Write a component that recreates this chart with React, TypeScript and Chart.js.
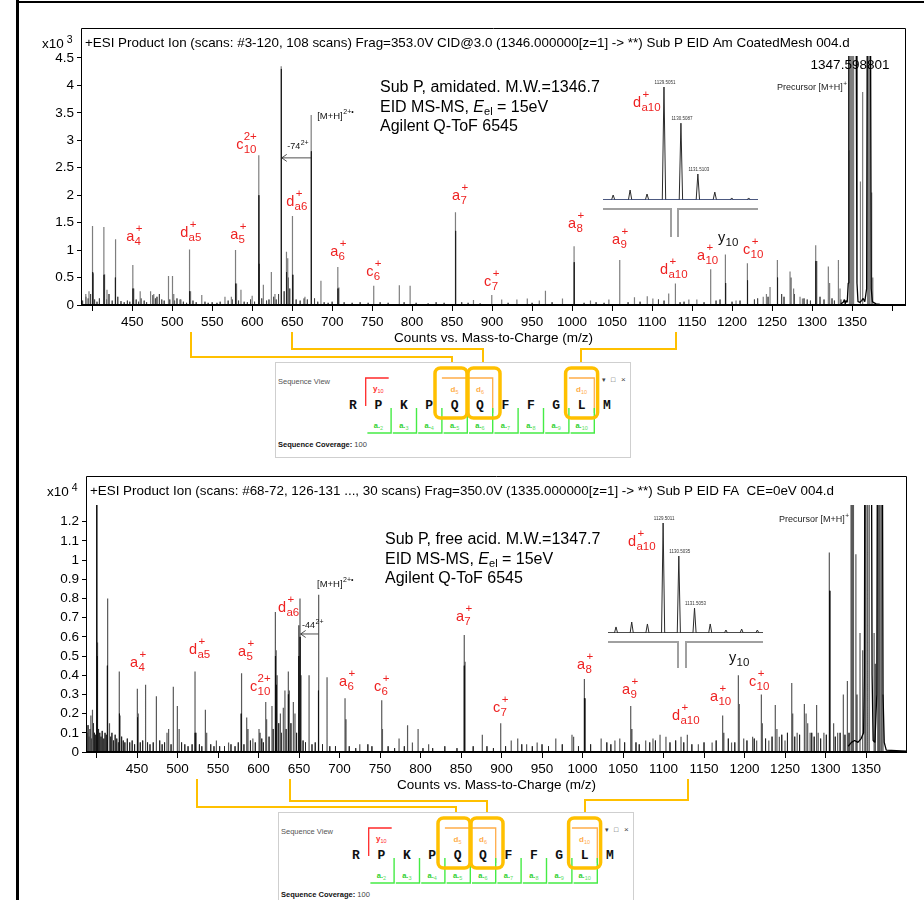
import React, { useEffect, useRef } from 'react';
import { Chart, registerables } from 'chart.js';

Chart.register(...registerables);

if (typeof document !== 'undefined') {
  document.body.style.margin = '0';
  document.documentElement.style.overflow = 'hidden';
  document.body.style.overflow = 'hidden';
}

const SANS = '"Liberation Sans", Arial, Helvetica, sans-serif';
const MONO = '"Liberation Mono", "Courier New", monospace';

type Pk = [number, number];
type Ion = [string, string, string, number, number];

// ---------------- DATA : top spectrum (amidated, x10^3 counts) ----------------
const topTitle = '+ESI Product Ion (scans: #3-120, 108 scans) Frag=353.0V CID@3.0 (1346.000000[z=1] -> **) Sub P EID Am CoatedMesh 004.d';
const topInfo = ['Sub P, amidated. M.W.=1346.7', 'Agilent Q-ToF 6545'];
const topXTicks = [400, 450, 500, 550, 600, 650, 700, 750, 800, 850, 900, 950, 1000, 1050, 1100, 1150, 1200, 1250, 1300, 1350, 1400];
const topYTicks = [0, 0.5, 1, 1.5, 2, 2.5, 3, 3.5, 4, 4.5];
const topPeaksGray: Pk[] = [
  [392, 0.2], [396, 0.25], [400.4, 1.44], [401.5, 0.58], [414.6, 1.42], [415.5, 0.56], [418.5, 0.28],
  [428.8, 1.2], [429.5, 0.5], [450.8, 0.73], [452, 0.3], [460, 0.25], [473, 0.25], [477, 0.2],
  [495.4, 0.53], [500.4, 0.53], [502, 0.2], [511, 0.1], [521.7, 1.01], [523, 0.25], [537, 0.18],
  [566, 0.15], [574, 0.15], [579.2, 1.0], [580.5, 0.39], [586, 0.28], [600, 0.17], [608.3, 2.73],
  [614, 0.37], [624, 0.6], [628.5, 0.2], [636.3, 4.35], [642.9, 0.97], [644.5, 0.85], [650.4, 1.62],
  [651.5, 0.55], [666, 0.15], [673.8, 3.46], [686, 0.44], [707.1, 0.69], [708.5, 0.32], [752, 0.35],
  [784, 0.36], [797.5, 0.35], [854.2, 1.69], [876.7, 0.09], [899.6, 0.18], [912, 0.1], [931, 0.1],
  [944, 0.12], [959, 0.08], [966.7, 0.26], [988, 0.12], [1002.5, 1.07], [1023, 0.08], [1046, 0.1],
  [1059.6, 0.82], [1078, 0.14], [1094, 0.16], [1101, 0.12], [1120.8, 0.21], [1129.2, 0.39], [1146, 0.1],
  [1156, 0.1], [1173.3, 0.65], [1191.7, 0.92], [1205, 0.08], [1219.2, 0.76], [1239, 0.15], [1243, 0.2],
  [1247.5, 0.33], [1256.7, 0.82], [1272.5, 0.61], [1274, 0.5], [1277, 0.3], [1285, 0.15], [1288, 0.12],
  [1304.6, 1.09], [1306, 0.8], [1320.4, 0.7], [1322, 0.4], [1333, 0.82], [1335, 0.3], [1346.7, 2.82],
  [1347.5, 6], [1349, 6], [1350.5, 6], [1352, 6], [1360.5, 2.25], [1363.3, 3.88], [1369.5, 6],
  [1371, 6], [1372.5, 6], [1374.6, 2.05], [1376, 0.5],
];
const topPeaksDark: Pk[] = [
  [400.6, 0.6], [414.8, 0.55], [429, 0.5], [451, 0.3], [521.8, 0.25], [579.4, 0.39], [608.4, 2.0],
  [608.6, 0.75], [636.4, 4.3], [636.6, 1.4], [643, 0.6], [650.5, 0.55], [673.9, 2.8], [674.1, 1.4],
  [707.3, 0.3], [854.4, 1.35], [1002.7, 0.78], [1192, 0.4], [1219.4, 0.45], [1256.9, 0.5], [1304.8, 0.8],
];
const topNoise: Pk[] = [
  [388, 0.08], [392, 0.15], [395, 0.12], [398, 0.2], [403, 0.1], [406, 0.06], [409, 0.12], [418, 0.1],
  [421, 0.2], [425, 0.08], [432, 0.15], [436, 0.07], [440, 0.05], [444, 0.08], [447, 0.06], [455, 0.1],
  [458, 0.06], [461, 0.12], [465, 0.08], [468, 0.05], [476, 0.18], [479, 0.12], [481, 0.15], [484, 0.2],
  [487, 0.1], [490, 0.08], [497, 0.1], [503, 0.08], [506, 0.12], [510, 0.1], [514, 0.06], [518, 0.04],
  [526, 0.08], [530, 0.05], [541, 0.06], [545, 0.04], [550, 0.05], [556, 0.04], [560, 0.06], [570, 0.08],
  [575, 0.1], [583, 0.08], [590, 0.06], [594, 0.05], [598, 0.1], [603, 0.06], [612, 0.12], [618, 0.08],
  [621, 0.1], [627, 0.15], [630, 0.1], [633, 0.2], [640, 0.25], [645, 0.5], [647, 0.3], [655, 0.1],
  [660, 0.08], [665, 0.12], [669, 0.1], [678, 0.12], [682, 0.06], [690, 0.05], [695, 0.04], [700, 0.06],
  [715, 0.05], [725, 0.04], [735, 0.05], [745, 0.04], [760, 0.05], [770, 0.04], [790, 0.05], [805, 0.04],
  [820, 0.03], [830, 0.05], [840, 0.04], [862, 0.05], [870, 0.04], [885, 0.03], [920, 0.04], [950, 0.04],
  [975, 0.05], [1015, 0.04], [1030, 0.05], [1040, 0.04], [1070, 0.05], [1085, 0.06], [1108, 0.1],
  [1115, 0.08], [1135, 0.05], [1140, 0.06], [1165, 0.05], [1180, 0.08], [1185, 0.1], [1200, 0.06],
  [1210, 0.08], [1228, 0.1], [1232, 0.12], [1245, 0.15], [1262, 0.2], [1265, 0.15], [1278, 0.2],
  [1290, 0.12], [1294, 0.1], [1298, 0.08], [1310, 0.15], [1315, 0.1], [1325, 0.12], [1328, 0.08], [1336, 0.1],
];
const topProfile: Pk[] = [
  [1336, 0.02], [1339, 0.05], [1340.5, 0.1], [1341.5, 0.02], [1342.5, 0.08], [1344, 0.05], [1345.3, 0.4],
  [1346, 6], [1355, 6], [1356.2, 0.4], [1357.5, 0.06], [1360, 0.05], [1362, 0.08], [1364, 0.12], [1366, 0.06],
  [1368.3, 0.3], [1369.2, 6], [1373, 6], [1374, 0.3], [1375.5, 0.06], [1380, 0.02], [1385, 0.01],
];
const topIons: Ion[] = [
  ['a', '4', '+', 442.5, 1.24], ['d', 'a5', '+', 510, 1.31], ['a', '5', '+', 572.5, 1.275],
  ['c', '10', '2+', 580, 2.915], ['d', 'a6', '+', 642.5, 1.876], ['a', '6', '+', 697.5, 0.966],
  ['c', '6', '+', 742.5, 0.601], ['a', '7', '+', 850, 1.986], ['c', '7', '+', 890, 0.419],
  ['a', '8', '+', 995, 1.476], ['a', '9', '+', 1050, 1.184], ['d', 'a10', '+', 1110, 0.638],
  ['a', '10', '+', 1156.25, 0.893], ['y', '10', '', 1182.5, 1.22], ['c', '10', '+', 1213.75, 1.002],
  ['d', 'a10', '+', 1076.25, 3.68],
];
const topLoss = { fromMz: 673.5, toMz: 637, level: 2.68, text: '-74', charge: '2+', labelMz: 643.75, labelLevel: 2.878 };
const topMH2 = { mz: 681.25, level: 3.443 };
const topPrecursor = { mz: 1256.25, level: 3.953, valueText: '1347.598801', valueMz: 1347.5, valueLevel: 4.37 };

// ---------------- DATA : bottom spectrum (free acid, x10^4 counts) ----------------
const botTitle = '+ESI Product Ion (scans: #68-72, 126-131 ..., 30 scans) Frag=350.0V (1335.000000[z=1] -> **) Sub P EID FA  CE=0eV 004.d';
const botInfo = ['Sub P, free acid. M.W.=1347.7', 'Agilent Q-ToF 6545'];
const botXTicks = [400, 450, 500, 550, 600, 650, 700, 750, 800, 850, 900, 950, 1000, 1050, 1100, 1150, 1200, 1250, 1300, 1350];
const botYTicks = [0, 0.1, 0.2, 0.3, 0.4, 0.5, 0.6, 0.7, 0.8, 0.9, 1, 1.1, 1.2];
const botPeaksGray: Pk[] = [
  [391, 0.12], [393, 0.19], [395, 0.22], [400.2, 1.29], [400.8, 0.57], [401.5, 0.41], [413.3, 0.8], [414, 0.44],
  [416, 0.15], [428.1, 0.42], [429, 0.19], [450.4, 0.33], [451.5, 0.2], [459.9, 0.35], [461, 0.2], [473.9, 0.29],
  [487, 0.1], [489, 0.12], [494.8, 0.34], [499.8, 0.24], [502, 0.12], [521.6, 0.42], [523, 0.1], [534.4, 0.22],
  [536, 0.1], [548, 0.06], [563, 0.05], [578.4, 0.41], [579.5, 0.19], [585.4, 0.18], [587, 0.12], [593, 0.07],
  [600.6, 0.12], [602, 0.1], [608.9, 0.26], [610, 0.17], [616.6, 0.24], [620.8, 0.73], [621.8, 0.53], [623, 0.4],
  [627, 0.2], [630.6, 0.23], [632.6, 0.32], [636.8, 0.42], [638, 0.32], [643, 0.26], [645, 0.2], [649.6, 0.66],
  [651.2, 0.8], [652.5, 0.4], [662.4, 0.4], [673.9, 0.82], [674.5, 0.32], [684.6, 0.39], [706.8, 0.28], [708, 0.17],
  [725, 0.04], [752.1, 0.27], [753, 0.12], [773.5, 0.07], [784, 0.14], [790, 0.05], [797, 0.12], [810, 0.04],
  [854, 0.61], [855, 0.47], [876.3, 0.09], [899, 0.15], [912, 0.06], [920, 0.07], [931, 0.04], [944, 0.05],
  [967, 0.07], [987, 0.09], [989, 0.08], [1002.3, 0.38], [1003.5, 0.28], [1023, 0.07], [1040, 0.06], [1046, 0.07],
  [1059.5, 0.24], [1061, 0.12], [1078, 0.06], [1087, 0.07], [1095.7, 0.09], [1103, 0.08], [1121.6, 0.08],
  [1129.4, 0.09], [1143, 0.04], [1160, 0.05], [1173, 0.19], [1174.5, 0.1], [1184, 0.05], [1192.4, 0.4],
  [1193.5, 0.25], [1199, 0.07], [1210, 0.08], [1215, 0.06], [1220.8, 0.3], [1222, 0.15], [1230, 0.06],
  [1238, 0.245], [1240, 0.12], [1243, 0.08], [1250, 0.06], [1258.3, 0.36], [1259.5, 0.2], [1265, 0.1],
  [1273.9, 0.25], [1276, 0.2], [1278, 0.15], [1281, 0.1], [1289, 0.245], [1291, 0.1], [1298, 0.1],
  [1304.7, 1.04], [1305.8, 0.84], [1310, 0.15], [1315, 0.1], [1322, 0.3], [1327, 0.37], [1331.5, 1.5],
  [1333, 1.5], [1334.5, 1.5], [1337.5, 1.03], [1339, 0.3], [1342.6, 0.62], [1345.9, 0.53], [1348.5, 1.5],
  [1350, 1.5], [1352, 1.5], [1354, 1.5], [1360, 0.62], [1361.6, 0.46], [1364.5, 1.5], [1366, 1.5],
  [1367.5, 1.5], [1369.3, 1.5], [1371, 0.3],
];
const botPeaksDark: Pk[] = [
  [400.3, 1.29], [400.9, 0.5], [413.4, 0.45], [428.3, 0.2], [450.6, 0.18], [521.8, 0.1], [578.6, 0.2],
  [620.9, 0.5], [622, 0.35], [636.9, 0.3], [649.8, 0.5], [651.3, 0.6], [674, 0.32], [854.1, 0.45],
  [1002.4, 0.28], [1305, 0.84],
];
const botNoise: Pk[] = [
  [388, 0.1], [389.5, 0.14], [391, 0.08], [392.5, 0.12], [394, 0.07], [396, 0.15], [397.5, 0.1], [399, 0.09],
  [402.5, 0.12], [404, 0.1], [405.5, 0.08], [407, 0.11], [409, 0.07], [410.5, 0.1], [412, 0.09], [416, 0.12],
  [417.5, 0.08], [419, 0.1], [421, 0.06], [423, 0.09], [425, 0.07], [427, 0.05], [431, 0.08], [433, 0.06],
  [435, 0.05], [438, 0.07], [441, 0.05], [444, 0.06], [447, 0.04], [454, 0.05], [457, 0.06], [463, 0.05],
  [466, 0.04], [470, 0.05], [478, 0.06], [481, 0.04], [484, 0.05], [492, 0.04], [505, 0.05], [509, 0.04],
  [513, 0.03], [518, 0.04], [527, 0.04], [530, 0.03], [541, 0.04], [545, 0.03], [552, 0.03], [558, 0.03],
  [566, 0.04], [571, 0.03], [575, 0.05], [582, 0.04], [590, 0.06], [596, 0.05], [604, 0.07], [606, 0.05],
  [613, 0.08], [618, 0.12], [625, 0.15], [628, 0.1], [634, 0.12], [640, 0.15], [647, 0.1], [655, 0.06],
  [658, 0.05], [666, 0.04], [670, 0.05], [679, 0.04], [688, 0.03], [695, 0.03], [712, 0.03], [720, 0.02],
  [735, 0.04], [740, 0.03], [760, 0.03], [768, 0.02], [780, 0.03], [803, 0.02], [815, 0.02], [830, 0.03],
  [845, 0.02], [865, 0.03], [882, 0.03], [890, 0.02], [905, 0.03], [925, 0.04], [938, 0.03], [950, 0.04],
  [958, 0.03], [975, 0.04], [995, 0.03], [1010, 0.04], [1030, 0.05], [1035, 0.04], [1052, 0.05], [1066, 0.05],
  [1070, 0.04], [1083, 0.05], [1090, 0.06], [1108, 0.05], [1115, 0.06], [1125, 0.05], [1135, 0.04],
  [1150, 0.05], [1165, 0.06], [1180, 0.07], [1188, 0.05], [1203, 0.06], [1212, 0.07], [1226, 0.07],
  [1234, 0.08], [1246, 0.09], [1253, 0.1], [1262, 0.08], [1268, 0.09], [1283, 0.1], [1286, 0.08],
  [1294, 0.07], [1301, 0.09], [1312, 0.08], [1318, 0.1], [1324, 0.09], [1329, 0.1],
];
const botProfile: Pk[] = [
  [1328, 0.03], [1332, 0.05], [1336, 0.06], [1340, 0.05], [1344, 0.07], [1347, 0.1], [1348, 0.4], [1348.8, 2],
  [1356.5, 2], [1357.5, 0.4], [1358.8, 0.06], [1361, 0.05], [1363.3, 0.3], [1364.3, 2], [1370, 2], [1371, 0.3],
  [1372.5, 0.05], [1375, 0.01], [1400, 0.004],
];
const botIons: Ion[] = [
  ['a', '4', '+', 441.4, 0.464], ['d', 'a5', '+', 514.2, 0.532], ['a', '5', '+', 574.7, 0.521],
  ['c', '10', '2+', 589.5, 0.339], ['d', 'a6', '+', 624.1, 0.75], ['a', '6', '+', 699.4, 0.365],
  ['c', '6', '+', 742.6, 0.339], ['a', '7', '+', 843.8, 0.703], ['c', '7', '+', 889.5, 0.229],
  ['a', '8', '+', 993.2, 0.453], ['a', '9', '+', 1048.8, 0.323], ['d', 'a10', '+', 1110.5, 0.188],
  ['a', '10', '+', 1157.4, 0.287], ['y', '10', '', 1180.9, 0.49], ['c', '10', '+', 1205.6, 0.365],
  ['d', 'a10', '+', 1056.2, 1.094],
];
const botLoss = { fromMz: 673.9, toMz: 652, level: 0.615, text: '-44', charge: '2+', labelMz: 653.7, labelLevel: 0.657 };
const botMH2 = { mz: 672.2, level: 0.875 };
const botPrecursor = { mz: 1242.6, level: 1.209, valueText: '', valueMz: 0, valueLevel: 0 };

// ---------------- DATA : isotope insets (d_a10+) ----------------
const topIsoMz = [1126.5, 1127.5, 1128.5, 1129.5, 1130.5, 1131.5, 1132.5, 1133.5, 1134.5];
const topIsoRel = [0.044, 0.088, 0.053, 1.0, 0.68, 0.23, 0.07, 0.018, 0.018];
const topIsoLabels = ['1129.5051', '1130.5087', '1131.5103'];
const botIsoMz = [1126.5, 1127.5, 1128.5, 1129.5, 1130.5, 1131.5, 1132.5, 1133.5, 1134.5, 1135.5];
const botIsoRel = [0.055, 0.1, 0.082, 1.0, 0.7, 0.227, 0.082, 0.027, 0.036, 0.027];
const botIsoLabels = ['1129.5011', '1130.5035', '1131.5053'];

// ---------------- DATA : sequence view ----------------
const seqResidues = ['R', 'P', 'K', 'P', 'Q', 'Q', 'F', 'F', 'G', 'L', 'M'];
const seqAIons = [2, 3, 4, 5, 6, 7, 8, 9, 10];
const seqDIons = [5, 6, 10];
const seqYIons = [10];
const seqBoxed = [5, 6, 10];
const seqCoverage = '100';

// ---------------- helpers ----------------
function sticks(peaks: Pk[]) {
  const out: { x: number; y: number }[] = [];
  for (const [m, v] of peaks) {
    out.push({ x: m, y: 0 }, { x: m, y: v }, { x: m, y: 0 });
  }
  return out;
}

function ionText(ctx: CanvasRenderingContext2D, x: number, y: number, main: string, sub: string, sup: string, color: string) {
  ctx.fillStyle = color;
  ctx.textBaseline = 'middle';
  ctx.textAlign = 'left';
  ctx.font = `14.5px ${SANS}`;
  ctx.fillText(main, x, y);
  const w = ctx.measureText(main).width;
  const sx = x + w + 0.3;
  ctx.font = `11.5px ${SANS}`;
  if (sub) ctx.fillText(sub, sx, y + 5);
  if (sup) {
    if (sup === '+') {
      ctx.textAlign = 'center';
      ctx.fillText('+', sx + 4.5, y - 8.5);
      ctx.textAlign = 'left';
    } else {
      ctx.fillText(sup, sx, y - 8.5);
    }
  }
}

interface SpecCfg {
  top: number;
  height: number;
  padding: { left: number; right: number; top: number; bottom: number };
  xMin: number;
  xMax: number;
  yMax: number;
  xTicks: number[];
  yTicks: number[];
  gray: Pk[];
  dark: Pk[];
  noise: Pk[];
  profile: Pk[];
  grayColor: string;
  darkColor: string;
  noiseColor: string;
  frameAbove: number;
  title: string;
  exponent: string;
  info: string[];
  infoX: number;
  infoY: number;
  ions: Ion[];
  loss: typeof topLoss;
  mh2: { mz: number; level: number };
  precursor: typeof topPrecursor;
}

function decorPlugin(cfg: SpecCfg) {
  return {
    id: 'decor',
    afterDraw(chart: any) {
      const { ctx, chartArea } = chart;
      const { left, right, top, bottom } = chartArea;
      const xs = chart.scales.x;
      const ys = chart.scales.y;
      const X = (m: number) => xs.getPixelForValue(m);
      const Y = (v: number) => ys.getPixelForValue(v);
      const ft = top - cfg.frameAbove;
      ctx.save();
      // frame
      ctx.strokeStyle = '#000';
      ctx.lineWidth = 1;
      ctx.beginPath();
      ctx.moveTo(left + 0.5, bottom);
      ctx.lineTo(left + 0.5, ft + 0.5);
      ctx.lineTo(right - 0.5, ft + 0.5);
      ctx.lineTo(right - 0.5, bottom);
      ctx.stroke();
      ctx.lineWidth = 2;
      ctx.beginPath();
      ctx.moveTo(left, bottom);
      ctx.lineTo(right, bottom);
      ctx.stroke();

      // exponent
      ctx.fillStyle = '#000';
      ctx.textBaseline = 'middle';
      ctx.textAlign = 'left';
      ctx.font = `13.5px ${SANS}`;
      const ex = left - 39;
      ctx.fillText('x10', ex, ft + 16);
      const ew = ctx.measureText('x10').width;
      ctx.font = `10.5px ${SANS}`;
      ctx.fillText(cfg.exponent, ex + ew + 3, ft + 12.5);

      // title
      ctx.font = `13.4px ${SANS}`;
      ctx.fillText(cfg.title, left + 4, ft + 15);

      // info block
      ctx.font = `16px ${SANS}`;
      ctx.fillText(cfg.info[0], cfg.infoX, cfg.infoY);
      let cx = cfg.infoX;
      const y2 = cfg.infoY + 19.5;
      ctx.fillText('EID MS-MS, ', cx, y2);
      cx += ctx.measureText('EID MS-MS, ').width;
      ctx.font = `italic 16px ${SANS}`;
      ctx.fillText('E', cx, y2);
      cx += ctx.measureText('E').width;
      ctx.font = `11px ${SANS}`;
      ctx.fillText('el', cx, y2 + 4.5);
      cx += ctx.measureText('el').width;
      ctx.font = `16px ${SANS}`;
      ctx.fillText(' = 15eV', cx, y2);
      ctx.fillText(cfg.info[1], cfg.infoX, cfg.infoY + 39);

      // ion labels
      for (const [main, sub, sup, m, v] of cfg.ions) {
        ionText(ctx, X(m), Y(v), main, sub, sup, main === 'y' ? '#111' : '#ee2222');
      }

      // neutral loss arrow
      const L = cfg.loss;
      const ay = Y(L.level);
      const ax1 = X(L.fromMz);
      const ax2 = X(L.toMz);
      ctx.strokeStyle = '#222';
      ctx.lineWidth = 0.8;
      ctx.beginPath();
      ctx.moveTo(ax1, ay);
      ctx.lineTo(ax2, ay);
      ctx.moveTo(ax2 + 5, ay - 3.5);
      ctx.lineTo(ax2, ay);
      ctx.lineTo(ax2 + 5, ay + 3.5);
      ctx.stroke();
      ctx.fillStyle = '#111';
      ctx.font = `9px ${SANS}`;
      const lx = X(L.labelMz);
      const lyy = Y(L.labelLevel);
      ctx.fillText(L.text, lx, lyy);
      const lw = ctx.measureText(L.text).width;
      ctx.font = `7px ${SANS}`;
      ctx.fillText(L.charge, lx + lw + 0.5, lyy - 4);

      // [M+H]2+.
      ctx.font = `9.5px ${SANS}`;
      const mx = X(cfg.mh2.mz);
      const my = Y(cfg.mh2.level);
      ctx.fillText('[M+H]', mx, my);
      const mw = ctx.measureText('[M+H]').width;
      ctx.font = `7px ${SANS}`;
      ctx.fillText('2+•', mx + mw + 0.5, my - 4);

      // precursor
      const P = cfg.precursor;
      ctx.font = `9px ${SANS}`;
      ctx.fillStyle = '#222';
      const px = X(P.mz);
      const py = Y(P.level);
      ctx.fillText('Precursor [M+H]', px, py);
      const pw = ctx.measureText('Precursor [M+H]').width;
      ctx.font = `6.5px ${SANS}`;
      ctx.fillText('+', px + pw + 0.5, py - 4);
      if (P.valueText) {
        ctx.fillStyle = '#000';
        ctx.font = `13.5px ${SANS}`;
        ctx.textAlign = 'center';
        ctx.fillText(P.valueText, X(P.valueMz), Y(P.valueLevel));
      }
      ctx.restore();
    },
  };
}

function lineDs(data: any[], color: string, width: number) {
  return {
    data,
    borderColor: color,
    borderWidth: width,
    pointRadius: 0,
    tension: 0,
    fill: false,
    borderJoinStyle: 'bevel',
  };
}

function Spectrum({ cfg }: { cfg: SpecCfg }) {
  const ref = useRef<HTMLCanvasElement>(null);
  useEffect(() => {
    const chart = new Chart(ref.current as HTMLCanvasElement, {
      type: 'line',
      data: {
        datasets: [
          lineDs(cfg.profile.map(([x, y]) => ({ x, y })), '#000', 1.3),
          lineDs(sticks(cfg.dark), cfg.darkColor, 1),
          lineDs(sticks(cfg.gray), cfg.grayColor, 1.2),
          lineDs(sticks(cfg.noise), cfg.noiseColor, 1),
        ] as any,
      },
      options: {
        responsive: false,
        animation: false,
        devicePixelRatio: 1,
        events: [],
        layout: { padding: cfg.padding },
        plugins: { legend: { display: false }, tooltip: { enabled: false } },
        scales: {
          x: {
            type: 'linear',
            min: cfg.xMin,
            max: cfg.xMax,
            afterBuildTicks: (axis: any) => {
              axis.ticks = cfg.xTicks.map((v) => ({ value: v }));
            },
            afterFit: (scale: any) => {
              scale.height = 50;
            },
            ticks: {
              autoSkip: false,
              maxRotation: 0,
              minRotation: 0,
              padding: 3,
              color: '#000',
              font: { family: SANS, size: 13.5 },
              callback: (v: any) => (v >= 450 && v <= 1350 ? String(v) : ''),
            },
            grid: { drawOnChartArea: false, drawTicks: true, tickLength: 6, color: '#000', lineWidth: 1 },
            border: { display: false },
            title: {
              display: true,
              text: 'Counts vs. Mass-to-Charge (m/z)',
              color: '#000',
              font: { family: SANS, size: 13.5 },
              padding: { top: 0, bottom: 9 },
            },
          },
          y: {
            type: 'linear',
            min: 0,
            max: cfg.yMax,
            afterBuildTicks: (axis: any) => {
              axis.ticks = cfg.yTicks.map((v) => ({ value: v }));
            },
            afterFit: (scale: any) => {
              scale.width = 40;
            },
            ticks: {
              autoSkip: false,
              padding: 3,
              color: '#000',
              font: { family: SANS, size: 13.5 },
              callback: (v: any) => String(v),
            },
            grid: { drawOnChartArea: false, drawTicks: true, tickLength: 4, color: '#000', lineWidth: 1 },
            border: { display: false },
          },
        },
      } as any,
      plugins: [decorPlugin(cfg) as any],
    });
    return () => chart.destroy();
  }, []);
  return (
    <canvas
      ref={ref}
      width={924}
      height={cfg.height}
      style={{ position: 'absolute', left: 0, top: cfg.top, width: 924, height: cfg.height }}
    />
  );
}

interface InsetCfg {
  left: number;
  top: number;
  width: number;
  height: number;
  padding: { left: number; right: number; top: number; bottom: number };
  xMin: number;
  xMax: number;
  mz: number[];
  rel: number[];
  labels: string[];
  baseColor: string;
  gapL: number;
  gapR: number;
  drop: number;
}

function Inset({ cfg }: { cfg: InsetCfg }) {
  const ref = useRef<HTMLCanvasElement>(null);
  useEffect(() => {
    const pts: { x: number; y: number }[] = [{ x: cfg.xMin, y: 0 }];
    cfg.mz.forEach((m, i) => {
      pts.push({ x: m - 0.1, y: 0 }, { x: m, y: cfg.rel[i] }, { x: m + 0.1, y: 0 });
    });
    pts.push({ x: cfg.xMax, y: 0 });
    const chart = new Chart(ref.current as HTMLCanvasElement, {
      type: 'line',
      data: {
        datasets: [
          lineDs([{ x: cfg.xMin, y: 0 }, { x: cfg.xMax, y: 0 }], cfg.baseColor, 1.3),
          lineDs(pts, '#2a2a2a', 1),
        ] as any,
      },
      options: {
        responsive: false,
        animation: false,
        devicePixelRatio: 1,
        events: [],
        layout: { padding: cfg.padding },
        plugins: { legend: { display: false }, tooltip: { enabled: false } },
        scales: {
          x: { type: 'linear', display: false, min: cfg.xMin, max: cfg.xMax },
          y: { type: 'linear', display: false, min: 0, max: 1.05 },
        },
      } as any,
      plugins: [
        {
          id: 'insetDecor',
          afterDraw(ch: any) {
            const { ctx, chartArea } = ch;
            const { left, right, bottom } = chartArea;
            const xs = ch.scales.x;
            const ys = ch.scales.y;
            ctx.save();
            ctx.strokeStyle = '#a0a0a0';
            ctx.lineWidth = 2;
            const by = bottom + 9;
            ctx.beginPath();
            ctx.moveTo(left, by);
            ctx.lineTo(left + cfg.gapL, by);
            ctx.lineTo(left + cfg.gapL, bottom + cfg.drop);
            ctx.moveTo(left + cfg.gapR, bottom + cfg.drop);
            ctx.lineTo(left + cfg.gapR, by);
            ctx.lineTo(right, by);
            ctx.stroke();
            ctx.fillStyle = '#333';
            ctx.font = `4.5px ${SANS}`;
            ctx.textAlign = 'center';
            ctx.textBaseline = 'middle';
            cfg.labels.forEach((t, i) => {
              const k = 3 + i;
              ctx.fillText(t, xs.getPixelForValue(cfg.mz[k]) + 1, ys.getPixelForValue(cfg.rel[k]) - 4.5);
            });
            ctx.restore();
          },
        } as any,
      ],
    });
    return () => chart.destroy();
  }, []);
  return (
    <canvas
      ref={ref}
      width={cfg.width}
      height={cfg.height}
      style={{ position: 'absolute', left: cfg.left, top: cfg.top, width: cfg.width, height: cfg.height }}
    />
  );
}

function SequenceView({ left, top }: { left: number; top: number }) {
  const W = 356;
  const H = 96;
  const xs = seqResidues.map((_, i) => 78 + i * 25.4);
  const green = '#45ec45';
  const orange = '#ffad4a';
  const gold = '#FFC000';
  return (
    <svg
      width={W}
      height={H}
      style={{ position: 'absolute', left, top, background: '#fff', overflow: 'visible' }}
    >
      <rect x={0.5} y={0.5} width={W - 1} height={H - 1} fill="#fff" stroke="#cfcfcf" strokeWidth={1} />
      <text x={3} y={19} fontFamily={SANS} fontSize={7.5} fill="#555" dominantBaseline="central">
        Sequence View
      </text>
      <text x={327} y={17} fontFamily={SANS} fontSize={7} fill="#444" dominantBaseline="central">
        ▾
      </text>
      <text x={336} y={17} fontFamily={SANS} fontSize={7} fill="#444" dominantBaseline="central">
        □
      </text>
      <text x={346} y={17} fontFamily={SANS} fontSize={8} fill="#444" dominantBaseline="central">
        ×
      </text>
      {/* y ions */}
      {seqYIons.map((n) => {
        const idx = seqResidues.length - n;
        const bx = xs[idx] - 12.7;
        return (
          <g key={'y' + n}>
            <polyline points={`${bx},44 ${bx},16 ${bx + 23},16`} fill="none" stroke="#ff2a2a" strokeWidth={1.3} />
            <text x={xs[idx]} y={26} textAnchor="middle" dominantBaseline="central" fontFamily={SANS} fontWeight="bold" fontSize={8} fill="#ff2a2a">
              y<tspan fontSize={5.5} dy={2.5} fontWeight="normal">{n}</tspan>
            </text>
          </g>
        );
      })}
      {/* d ions */}
      {seqDIons.map((n) => {
        const xc = xs[n - 1];
        const l = xc - 12.7;
        const r = xc + 12.7;
        return (
          <g key={'d' + n}>
            <polyline points={`${l},16 ${r},16 ${r},51`} fill="none" stroke={orange} strokeWidth={1.3} />
            <text x={xc} y={27} textAnchor="middle" dominantBaseline="central" fontFamily={SANS} fontWeight="bold" fontSize={8} fill={orange}>
              d<tspan fontSize={5.5} dy={2.5} fontWeight="normal">{n}</tspan>
            </text>
          </g>
        );
      })}
      {/* residues */}
      {seqResidues.map((r, i) => (
        <text key={'r' + i} x={xs[i]} y={43} textAnchor="middle" dominantBaseline="central" fontFamily={MONO} fontWeight="bold" fontSize={13} fill="#111">
          {r}
        </text>
      ))}
      {/* a ions */}
      {seqAIons.map((n) => {
        const xc = xs[n - 1];
        const r = xc + 12.7;
        const l = xc - 11;
        return (
          <g key={'a' + n}>
            <polyline points={`${l},71 ${r},71 ${r},46`} fill="none" stroke={green} strokeWidth={1.4} />
            <text x={xc} y={63} textAnchor="middle" dominantBaseline="central" fontFamily={SANS} fontWeight="bold" fontSize={7.5} fill="#2fd02f">
              a.<tspan fontSize={5.5} dy={3} fontWeight="normal" fill="#5ee05e">{n}</tspan>
            </text>
          </g>
        );
      })}
      {/* highlight boxes */}
      {seqBoxed.map((n) => {
        const xc = xs[n - 1];
        const l = n === 5 ? 160 : n === 6 ? 193 : xc - 16;
        return <rect key={'b' + n} x={l} y={6} width={32} height={50} rx={5.5} ry={5.5} fill="none" stroke={gold} strokeWidth={3.5} />;
      })}
      <text x={3} y={82} fontFamily={SANS} fontSize={7.5} fill="#111" dominantBaseline="central">
        <tspan fontWeight="bold">Sequence Coverage:</tspan>
        <tspan fill="#444"> {seqCoverage}</tspan>
      </text>
    </svg>
  );
}

const topCfg: SpecCfg = {
  top: 0,
  height: 460,
  padding: { left: 41, right: 18, top: 56, bottom: 105 },
  xMin: 386,
  xMax: 1417.5,
  yMax: 4.536,
  xTicks: topXTicks,
  yTicks: topYTicks,
  gray: topPeaksGray,
  dark: topPeaksDark,
  noise: topNoise,
  profile: topProfile,
  grayColor: '#7e7e7e',
  darkColor: '#1e1e1e',
  noiseColor: '#444',
  frameAbove: 28,
  title: topTitle,
  exponent: '3',
  info: topInfo,
  infoX: 380,
  infoY: 88,
  ions: topIons,
  loss: topLoss,
  mh2: topMH2,
  precursor: topPrecursor,
};

const botCfg: SpecCfg = {
  top: 460,
  height: 440,
  padding: { left: 46, right: 17, top: 45, bottom: 98 },
  xMin: 387,
  xMax: 1400.6,
  yMax: 1.287,
  xTicks: botXTicks,
  yTicks: botYTicks,
  gray: botPeaksGray,
  dark: botPeaksDark,
  noise: botNoise,
  profile: botProfile,
  grayColor: '#5a5a5a',
  darkColor: '#111',
  noiseColor: '#222',
  frameAbove: 29,
  title: botTitle,
  exponent: '4',
  info: botInfo,
  infoX: 385,
  infoY: 80,
  ions: botIons,
  loss: botLoss,
  mh2: botMH2,
  precursor: botPrecursor,
};

const topInsetCfg: InsetCfg = {
  left: 595,
  top: 70,
  width: 170,
  height: 175,
  padding: { left: 8, right: 7, top: 11.35, bottom: 45 },
  xMin: 1125.9,
  xMax: 1135.05,
  mz: topIsoMz,
  rel: topIsoRel,
  labels: topIsoLabels,
  baseColor: '#34467a',
  gapL: 68,
  gapR: 75,
  drop: 37,
};

const botInsetCfg: InsetCfg = {
  left: 600,
  top: 505,
  width: 170,
  height: 170,
  padding: { left: 8, right: 7, top: 12.5, bottom: 42 },
  xMin: 1125.99,
  xMax: 1135.86,
  mz: botIsoMz,
  rel: botIsoRel,
  labels: botIsoLabels,
  baseColor: '#333',
  gapL: 70,
  gapR: 78,
  drop: 35,
};

export default function App() {
  const gold = '#FFC000';
  return (
    <div style={{ position: 'relative', width: 924, height: 900, overflow: 'hidden', background: '#fff' }}>
      <div style={{ position: 'absolute', left: 16, top: 0, width: 3, height: 900, background: '#000' }} />
      <div style={{ position: 'absolute', left: 16, top: 1, width: 908, height: 2, background: '#000' }} />
      <Spectrum cfg={topCfg} />
      <Spectrum cfg={botCfg} />
      <Inset cfg={topInsetCfg} />
      <Inset cfg={botInsetCfg} />
      <svg width={924} height={900} style={{ position: 'absolute', left: 0, top: 0, pointerEvents: 'none' }}>
        <polyline points="191,332 191,357 452,357 452,369" fill="none" stroke={gold} strokeWidth={2} />
        <polyline points="292,332 292,349 483,349 483,369" fill="none" stroke={gold} strokeWidth={2} />
        <polyline points="676,332 676,349 581,349 581,369" fill="none" stroke={gold} strokeWidth={2} />
        <polyline points="197,779 197,807 456,807 456,819" fill="none" stroke={gold} strokeWidth={2} />
        <polyline points="290,779 290,801 487,801 487,819" fill="none" stroke={gold} strokeWidth={2} />
        <polyline points="688,779 688,800 585,800 585,819" fill="none" stroke={gold} strokeWidth={2} />
      </svg>
      <SequenceView left={275} top={362} />
      <SequenceView left={278} top={812} />
    </div>
  );
}
